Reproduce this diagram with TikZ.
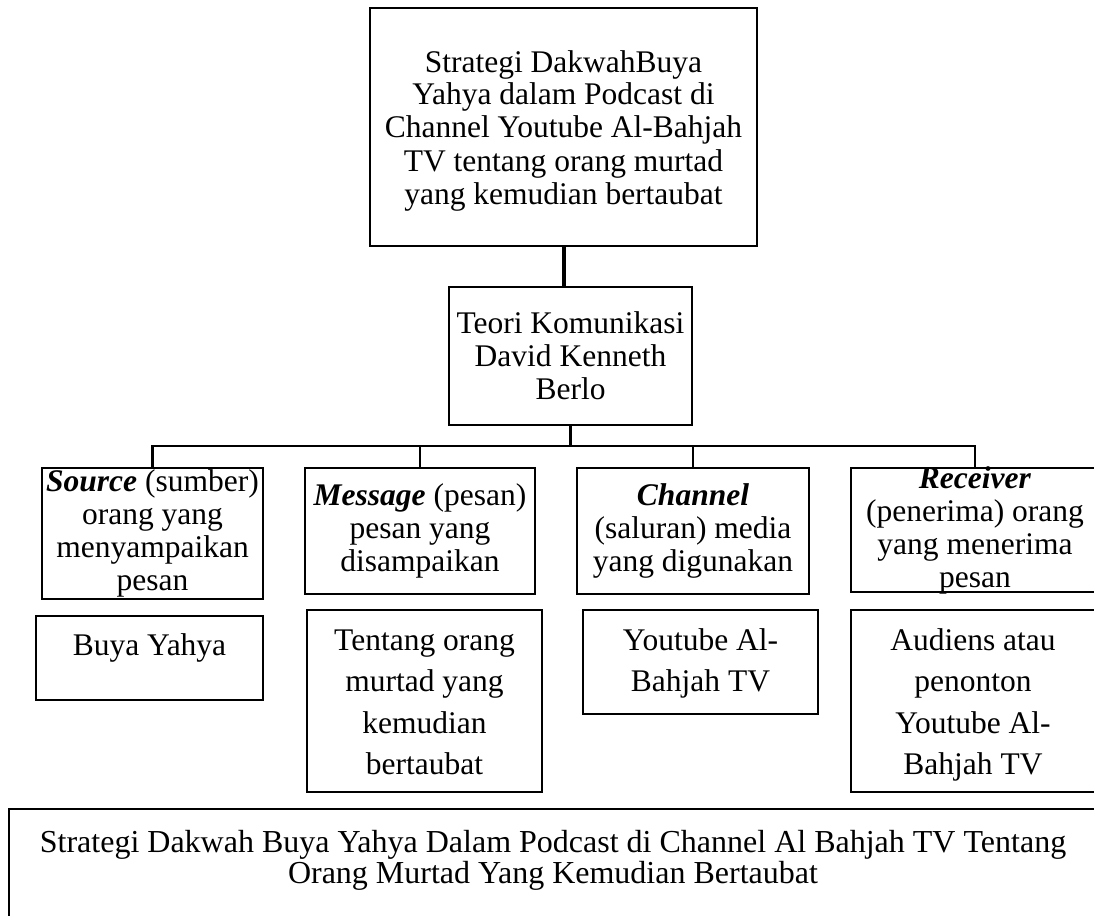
\documentclass[tikz,border=0pt]{standalone}
\usepackage{fontspec}
\setmainfont{Liberation Serif}

\tikzstyle{kotak} = [draw=black, line width=2.6pt, rectangle, inner sep=0pt,
    font=\fontsize{31.5}{33}\selectfont]
\tikzstyle{kotakisi} = [kotak, font=\fontsize{31.5}{41.5}\selectfont]
\tikzstyle{garis} = [draw=black, line width=2.6pt]
\newcommand{\isi}[4]{\parbox[c][#2][#3]{#1}{\centering #4}}

\begin{document}
\begin{tikzpicture}[x=1pt, y=-1pt]
\clip (0,0) rectangle (1094,915);
% judul dan teori
\node [kotak] (strategi) at (563.5,127) {\isi{387pt}{238pt}{t}{\rule{0pt}{64pt}Strategi DakwahBuya\\
    Yahya dalam Podcast di\\ Channel Youtube Al-Bahjah\\ TV tentang orang murtad\\
    yang kemudian bertaubat}};
\node [kotak] (teori) at (570.5,356) {\isi{243pt}{138pt}{c}{Teori Komunikasi\\
    David Kenneth\\ Berlo}};
% unsur komunikasi
\node [kotak] (source) at (152.5,533.5) {\isi{221pt}{131pt}{c}{\textbf{\textit{Source}} (sumber)\\
    orang yang\\ menyampaikan\\ pesan}};
\node [kotak] (message) at (420,531) {\isi{230pt}{126pt}{c}{\textbf{\textit{Message}} (pesan)\\
    pesan yang\\ disampaikan}};
\node [kotak] (channel) at (693,531) {\isi{232pt}{126pt}{c}{\textbf{\textit{Channel}}\\
    (saluran) media\\ yang digunakan}};
\node [kotak] (receiver) at (975,530) {\isi{248pt}{124pt}{c}{\textbf{\textit{Receiver}}\\
    (penerima) orang\\ yang menerima\\ pesan}};
% isi tiap unsur
\node [kotakisi] (buya) at (149.5,658) {\isi{227pt}{84pt}{t}{\rule{0pt}{39pt}Buya Yahya}};
\node [kotakisi] (tentang) at (424.5,701) {\isi{235pt}{182pt}{t}{\rule{0pt}{40pt}Tentang orang\\
    murtad yang\\ kemudian\\ bertaubat}};
\node [kotakisi] (youtube) at (700.5,662) {\isi{235pt}{104pt}{t}{\rule{0pt}{40pt}Youtube Al-\\
    Bahjah TV}};
\node [kotakisi] (audiens) at (973,701) {\isi{244pt}{182pt}{t}{\rule{0pt}{40pt}Audiens atau\\
    penonton\\ Youtube Al-\\ Bahjah TV}};
% kesimpulan
\node [kotak, font=\fontsize{32}{31}\selectfont] (hasil) at (553,874.5) {\isi{1088pt}{131pt}{t}{\rule{0pt}{43pt}Strategi
    Dakwah Buya Yahya Dalam Podcast di Channel Al Bahjah TV Tentang\\ Orang Murtad Yang Kemudian Bertaubat}};
% garis penghubung
\coordinate (bus) at (570.5,446);
\draw [garis, line width=4pt] (strategi.south) -- (strategi.south |- teori.north);
\draw [garis] (teori.south) -- (bus);
\draw [garis] (source.north) -- (source.north |- bus) -- (receiver.north |- bus) -- (receiver.north);
\draw [garis] (message.north) -- (message.north |- bus);
\draw [garis] (channel.north) -- (channel.north |- bus);
\end{tikzpicture}
\end{document}
